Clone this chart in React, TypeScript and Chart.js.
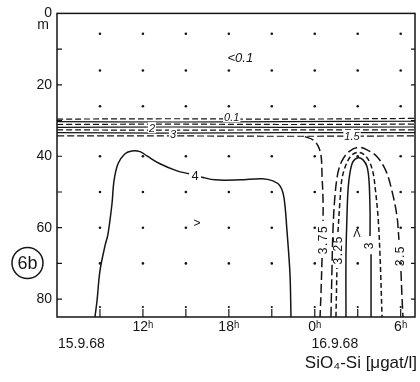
import React, { useEffect, useRef } from "react";
import { Chart, registerables } from "chart.js";

Chart.register(...registerables);

const INK = "#151515";
const SANS = "'Liberation Sans', Arial, sans-serif";

// Time axis: hours after 00h on 15.9.68. Depth axis: metres.
const timeMin = 6;
const timeMax = 31;
const depthMax = 85;
const sampleTimes = [9, 12, 15, 18, 21, 24, 27, 30];
const sampleDepths = [5.7, 16, 26, 40, 50, 60, 70];
const depthTickValues = [0, 10, 20, 30, 40, 50, 60, 70, 80];
const timeLabels: Record<number, string> = { 12: "12ʰ", 18: "18ʰ", 24: "0ʰ", 30: "6ʰ" };

type Pt = [number, number];

// Isoline 4 (solid), split where the "4" label sits
const iso4West: Pt[] = [
  [8.65, 85], [8.79, 80.6], [9.0, 72.1], [9.35, 65.1], [9.56, 61.8], [9.84, 53.3],
  [9.98, 46.9], [10.26, 42.1], [10.75, 39.3], [11.24, 38.5], [11.8, 38.7],
  [12.28, 39.9], [13.19, 42.1], [14.38, 44.1], [15.22, 44.9],
];
const iso4East: Pt[] = [
  [16.06, 45.8], [17.03, 46.6], [18.78, 46.6], [20.32, 46.3], [21.08, 46.9],
  [21.57, 48.3], [21.85, 51.6], [22.06, 60.9], [22.27, 73.0], [22.34, 85],
];

// Isoline 3.75 (dashed), leaving the thermocline band
const iso375Upper: Pt[] = [
  [23.32, 34.5], [23.88, 35.4], [24.23, 37.1], [24.44, 39.9], [24.51, 45.5],
  [24.58, 52.5], [24.58, 58.1],
];
const iso375Lower: Pt[] = [[24.51, 68.5], [24.44, 77.8], [24.37, 85]];

// Isoline 3.5 (long dashes)
const iso35Arch: Pt[] = [
  [25.13, 85], [25.2, 72.1], [25.27, 60.9], [25.41, 51.1], [25.62, 44.6],
  [25.9, 41.3], [26.39, 38.7], [27.02, 37.5], [27.65, 38.2], [28.35, 40.1],
  [28.97, 44.1], [29.39, 49.7], [29.74, 56.7], [29.88, 63.4],
];
const iso35East: Pt[] = [[30.02, 72.1], [30.09, 79.2], [30.16, 85]];

// Isoline 3.25 (short dashes)
const iso325West: Pt[] = [[25.48, 85], [25.55, 71.3]];
const iso325Arch: Pt[] = [
  [25.62, 61.2], [25.76, 52.5], [25.9, 46.3], [26.18, 42.4], [26.53, 39.9],
  [26.95, 38.9], [27.37, 39.3], [27.79, 41.3], [28.07, 44.6], [28.21, 48.5],
  [28.42, 57.0], [28.56, 68.0], [28.7, 85],
];

// Isoline 3 (solid)
const iso3Arch: Pt[] = [
  [26.18, 85], [26.18, 67.9], [26.25, 56.7], [26.32, 49.7], [26.46, 44.6],
  [26.67, 41.5], [27.02, 40.4], [27.37, 41.0], [27.65, 42.9], [27.79, 46.9],
  [27.86, 55.3], [27.86, 62.3],
];
const iso3East: Pt[] = [[27.93, 67.4], [27.93, 85]];

// Thermocline band, top to bottom
const band1: Pt[] = [[6, 29.6], [14, 29.5], [22, 29.6], [31, 29.4]];
const band2: Pt[] = [[6, 30.3], [14, 30.4], [22, 30.3], [31, 30.2]];
const band3: Pt[] = [[6, 31.1], [14, 31.0], [22, 31.1], [31, 31.0]];
const band4: Pt[] = [[6, 31.9], [14, 31.8], [22, 31.9], [31, 31.8]];
const band5: Pt[] = [[6, 32.6], [14, 32.7], [22, 32.6], [31, 32.6]];
const band6: Pt[] = [[6, 33.4], [14, 33.5], [22, 33.4], [31, 33.4]];
const band7: Pt[] = [[6, 34.3], [14, 34.3], [22, 34.4], [31, 34.3]];

type Label = { text: string; t: number; d: number; rot?: boolean; boxed?: boolean; italic?: boolean; size?: number };
const isolineLabels: Label[] = [
  { text: "4", t: 15.64, d: 45.4, size: 13 },
  { text: "3.75", t: 24.55, d: 63.3, rot: true },
  { text: "3.25", t: 25.6, d: 66.2, rot: true },
  { text: "3", t: 27.8, d: 64.9, rot: true },
  { text: "3.5", t: 29.95, d: 67.8, rot: true },
  { text: "0.1", t: 18.2, d: 28.9, boxed: true, italic: true, size: 11 },
  { text: "2", t: 12.63, d: 32.0, boxed: true, italic: true, size: 11 },
  { text: "3", t: 14.1, d: 33.7, boxed: true, italic: true, size: 11 },
  { text: "1.5", t: 26.6, d: 34.2, boxed: true, italic: true, size: 11 },
  { text: "<0.1", t: 18.8, d: 12.4, italic: true, size: 13 },
  { text: ">", t: 15.78, d: 58.7, size: 12 },
  { text: "Λ", t: 26.95, d: 61.5, size: 11 },
];

const line = (pts: Pt[], dash: number[] = [], width = 1.5) => ({
  data: pts.map(([x, y]) => ({ x, y })),
  showLine: true,
  borderColor: INK,
  borderWidth: width,
  borderDash: dash,
  pointRadius: 0,
  tension: 0.35,
  fill: false,
});

const paperPlugin = {
  id: "paper",
  beforeDraw(chart: any) {
    const { ctx, width, height } = chart;
    ctx.save();
    ctx.fillStyle = "#fff";
    ctx.fillRect(0, 0, width, height);
    ctx.restore();
  },
  afterDatasetsDraw(chart: any) {
    const { ctx, chartArea: a, scales } = chart;
    const x = scales.x;
    const y = scales.y;
    ctx.save();
    ctx.strokeStyle = INK;
    ctx.fillStyle = INK;
    ctx.setLineDash([]);

    // frame
    ctx.lineWidth = 1.5;
    ctx.strokeRect(a.left, a.top, a.right - a.left, a.bottom - a.top);

    // inward depth ticks on both sides
    ctx.lineWidth = 1.2;
    for (const d of depthTickValues) {
      if (d === 0) continue;
      const py = y.getPixelForValue(d);
      ctx.beginPath();
      ctx.moveTo(a.left, py);
      ctx.lineTo(a.left + 5, py);
      ctx.moveTo(a.right, py);
      ctx.lineTo(a.right - 4, py);
      ctx.stroke();
    }
    // station marks on the bottom
    for (const t of sampleTimes) {
      const px = x.getPixelForValue(t);
      ctx.beginPath();
      ctx.moveTo(px, a.bottom);
      ctx.lineTo(px, a.bottom - 8);
      ctx.stroke();
      ctx.beginPath();
      ctx.arc(px, a.bottom - 10, 1.1, 0, Math.PI * 2);
      ctx.fill();
    }

    // isoline labels
    ctx.textAlign = "center";
    ctx.textBaseline = "middle";
    for (const l of isolineLabels) {
      const px = x.getPixelForValue(l.t);
      const py = y.getPixelForValue(l.d);
      const size = l.size ?? 12;
      ctx.font = `${l.italic ? "italic " : ""}${size}px ${SANS}`;
      (ctx as any).letterSpacing = l.rot ? "1.5px" : "0px";
      ctx.save();
      ctx.translate(px, py);
      if (l.rot) ctx.rotate(-Math.PI / 2);
      if (l.boxed) {
        const w = ctx.measureText(l.text).width + 2;
        ctx.fillStyle = "#fff";
        ctx.fillRect(-w / 2, -size / 2, w, size);
        ctx.fillStyle = INK;
      }
      ctx.fillText(l.text, 0, 1);
      ctx.restore();
    }
    (ctx as any).letterSpacing = "0px";

    // unit under the top depth label
    ctx.font = `14px ${SANS}`;
    ctx.fillText("m", a.left - 14, a.top + 12);

    // dates under the time axis
    ctx.font = `14px ${SANS}`;
    ctx.textAlign = "left";
    ctx.fillText("15.9.68", a.left + 1, a.bottom + 27);
    ctx.textAlign = "center";
    ctx.fillText("16.9.68", x.getPixelForValue(25.4), a.bottom + 27);

    // quantity
    ctx.font = `17px ${SANS}`;
    ctx.textAlign = "right";
    ctx.fillText("SiO₄-Si [μgat/l]", a.right + 2, a.bottom + 46);

    // panel tag
    ctx.lineWidth = 1.5;
    ctx.beginPath();
    ctx.ellipse(27.5, 263, 15.5, 15.5, 0, 0, Math.PI * 2);
    ctx.stroke();
    ctx.font = `18px ${SANS}`;
    ctx.textAlign = "center";
    ctx.fillText("6b", 27.5, 264);

    ctx.restore();
  },
};

export default function App() {
  const ref = useRef<HTMLCanvasElement | null>(null);

  useEffect(() => {
    if (!ref.current) return;
    const dots = {
      data: sampleTimes.flatMap((t) => sampleDepths.map((d) => ({ x: t, y: d }))),
      showLine: false,
      pointRadius: 1.3,
      pointBackgroundColor: INK,
      pointBorderWidth: 0,
    };
    const chart = new Chart(ref.current, {
      type: "scatter",
      data: {
        datasets: [
          dots,
          line(band1, [6, 3], 1.2),
          line(band2, [], 1.2),
          line(band3, [6, 3], 1.2),
          line(band4, [], 1.2),
          line(band5, [6, 3], 1.2),
          line(band6, [], 1.2),
          line(band7, [7, 3], 1.2),
          line(iso4West),
          line(iso4East),
          line(iso375Upper, [9, 4]),
          line(iso375Lower, [9, 4]),
          line(iso35Arch, [10, 4]),
          line(iso35East, [10, 4]),
          line(iso325West, [5, 3]),
          line(iso325Arch, [5, 3]),
          line(iso3Arch),
          line(iso3East),
        ] as any,
      },
      options: {
        responsive: false,
        animation: false,
        events: [],
        layout: { padding: { top: 13, right: 5, left: 0, bottom: 0 } },
        plugins: { legend: { display: false }, tooltip: { enabled: false } },
        scales: {
          x: {
            type: "linear",
            min: timeMin,
            max: timeMax,
            afterFit: (s: any) => {
              s.height = 65;
            },
            afterBuildTicks: (s: any) => {
              s.ticks = sampleTimes.map((v) => ({ value: v }));
            },
            ticks: {
              autoSkip: false,
              maxRotation: 0,
              padding: 2,
              color: INK,
              font: { family: SANS, size: 14 },
              callback: (v: any) => timeLabels[Number(v)] ?? "",
            },
            grid: { display: false, drawTicks: false },
            border: { display: false },
          },
          y: {
            type: "linear",
            min: 0,
            max: depthMax,
            reverse: true,
            afterFit: (s: any) => {
              s.width = 57;
            },
            afterBuildTicks: (s: any) => {
              s.ticks = depthTickValues.map((v) => ({ value: v }));
            },
            ticks: {
              autoSkip: false,
              padding: 5,
              color: INK,
              font: { family: SANS, size: 14 },
              callback: (v: any) => (Number(v) % 20 === 0 ? String(v) : ""),
            },
            grid: { display: false, drawTicks: false },
            border: { display: false },
          },
        },
      } as any,
      plugins: [paperPlugin],
    });
    return () => chart.destroy();
  }, []);

  return (
    <div style={{ position: "absolute", left: 0, top: 0, width: 420, height: 382, background: "#fff" }}>
      <canvas ref={ref} width={420} height={382} style={{ display: "block" }} />
    </div>
  );
}
